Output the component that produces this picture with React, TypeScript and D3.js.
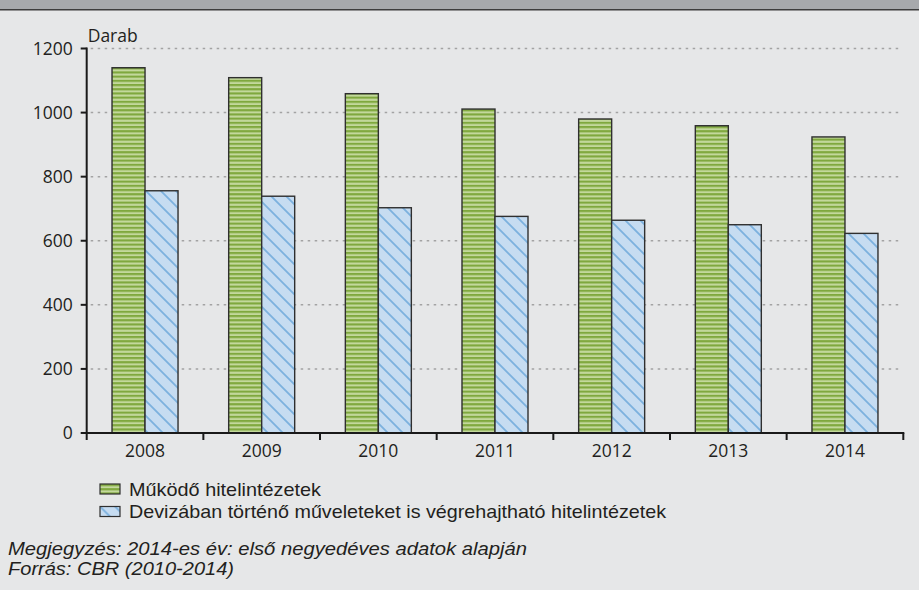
import React from "react";
import * as d3 from "d3";

const years = ["2008", "2009", "2010", "2011", "2012", "2013", "2014"];
const operating = [1140, 1109, 1059, 1011, 980, 959, 924];
const forex = [756, 739, 703, 676, 664, 650, 623];
const seriesNames = [
  "Működő hitelintézetek",
  "Devizában történő műveleteket is végrehajtható hitelintézetek",
];
const yTicks = [0, 200, 400, 600, 800, 1000, 1200];
const unitLabel = "Darab";
const noteLines = [
  "Megjegyzés: 2014-es év: első negyedéves adatok alapján",
  "Forrás: CBR (2010-2014)",
];

const W = 919;
const H = 590;
const FONT = "'Open Sans', sans-serif";
const FONT2 = "'Liberation Sans', Arial, sans-serif";
const LEGEND_TEXT_W = [192, 537];
const NOTE_TEXT_W = [519, 226];

export default function App() {
  const x0 = d3.scaleBand<string>().domain(years).range([86.7, 903.3]).padding(0);
  const bw = x0.bandwidth();
  const barW = 33;
  const x1 = d3
    .scaleBand<string>()
    .domain(["a", "b"])
    .range([bw / 2 - barW, bw / 2 + barW])
    .padding(0);
  const y = d3.scaleLinear().domain([0, 1200]).range([433, 48.5]);
  const series = [
    { key: "a", values: operating, fill: "url(#greenStripes)" },
    { key: "b", values: forex, fill: "url(#blueDiag)" },
  ];
  const axisLeft = x0.range()[0];
  const axisRight = x0.range()[1];
  const boundaries = years.map((yr) => (x0(yr) as number) + bw);

  return (
    <svg
      width={W}
      height={H}
      style={{ position: "absolute", left: 0, top: 0, display: "block" }}
      fontFamily={FONT}
    >
      <defs>
        <pattern id="greenStripes" patternUnits="userSpaceOnUse" width={8} height={4.2}>
          <rect x={0} y={0} width={8} height={4.2} fill="#c3d89c" />
          <rect x={0} y={0} width={8} height={2.1} fill="#7fa83e" />
        </pattern>
        <pattern id="blueDiag" patternUnits="userSpaceOnUse" width={15} height={15}>
          <rect x={0} y={0} width={15} height={15} fill="#c6dcf1" />
          <path
            d="M0,0 L15,15 M-2,13 L2,17 M13,-2 L17,2"
            stroke="#7cb1de"
            strokeWidth={1.8}
          />
        </pattern>
      </defs>
      <rect x={0} y={0} width={W} height={H} fill="#e6e7e8" />
      <rect x={0} y={0} width={W} height={9} fill="#a7a9ac" />
      <rect x={0} y={9} width={W} height={1.5} fill="#3d3d3d" />

      {/* gridlines */}
      {yTicks
        .filter((t) => t > 0)
        .map((t) => (
          <line
            key={"g" + t}
            x1={axisLeft + 4}
            x2={901}
            y1={y(t)}
            y2={y(t)}
            stroke="#a3a3a3"
            strokeWidth={1.5}
            strokeDasharray="2.5 4.5"
          />
        ))}

      {/* bars */}
      {series.map((s) =>
        years.map((yr, i) => {
          const bx = (x0(yr) as number) + (x1(s.key) as number);
          const by = y(s.values[i]);
          return (
            <rect
              key={s.key + yr}
              x={bx}
              y={by}
              width={x1.bandwidth()}
              height={y(0) - by}
              fill={s.fill}
              stroke="#2f2f2f"
              strokeWidth={1.4}
            />
          );
        })
      )}

      {/* y axis */}
      <line x1={axisLeft} x2={axisLeft} y1={y(1200) - 1} y2={y(0) + 7} stroke="#1a1a1a" strokeWidth={2} />
      {yTicks.map((t) => (
        <g key={"yt" + t}>
          <line x1={axisLeft - 6} x2={axisLeft} y1={y(t)} y2={y(t)} stroke="#1a1a1a" strokeWidth={2} />
          <text
            x={axisLeft - 14}
            y={y(t)}
            dy="0.35em"
            textAnchor="end"
            fontSize={17.5}
            fill="#231f20"
          >
            {t}
          </text>
        </g>
      ))}
      <text x={axisLeft + 1} y={42} fontSize={17.5} fill="#231f20">
        {unitLabel}
      </text>

      {/* x axis */}
      <line x1={axisLeft - 1} x2={axisRight + 1} y1={y(0)} y2={y(0)} stroke="#1a1a1a" strokeWidth={2} />
      {boundaries.map((bx, i) => (
        <line key={"xt" + i} x1={bx} x2={bx} y1={y(0)} y2={y(0) + 7} stroke="#1a1a1a" strokeWidth={2} />
      ))}
      {years.map((yr) => (
        <text
          key={"xl" + yr}
          x={(x0(yr) as number) + bw / 2}
          y={457}
          textAnchor="middle"
          fontSize={17.5}
          fill="#231f20"
        >
          {yr}
        </text>
      ))}

      {/* legend */}
      {seriesNames.map((name, i) => (
        <g key={"lg" + i} transform={`translate(100, ${484 + i * 22.5})`}>
          <rect
            x={0}
            y={0}
            width={20}
            height={10}
            fill={series[i].fill}
            stroke="#2f2f2f"
            strokeWidth={1.2}
          />
          <text
            x={29}
            y={5}
            dy="0.36em"
            fontSize={19}
            fontFamily={FONT2}
            fill="#231f20"
            textLength={LEGEND_TEXT_W[i]}
            lengthAdjust="spacingAndGlyphs"
          >
            {name}
          </text>
        </g>
      ))}

      {/* notes */}
      {noteLines.map((ln, i) => (
        <text
          key={"n" + i}
          x={8}
          y={554.5 + i * 20.8}
          fontSize={18}
          fontStyle="italic"
          fontFamily={FONT2}
          fill="#231f20"
          textLength={NOTE_TEXT_W[i]}
          lengthAdjust="spacingAndGlyphs"
        >
          {ln}
        </text>
      ))}
    </svg>
  );
}
